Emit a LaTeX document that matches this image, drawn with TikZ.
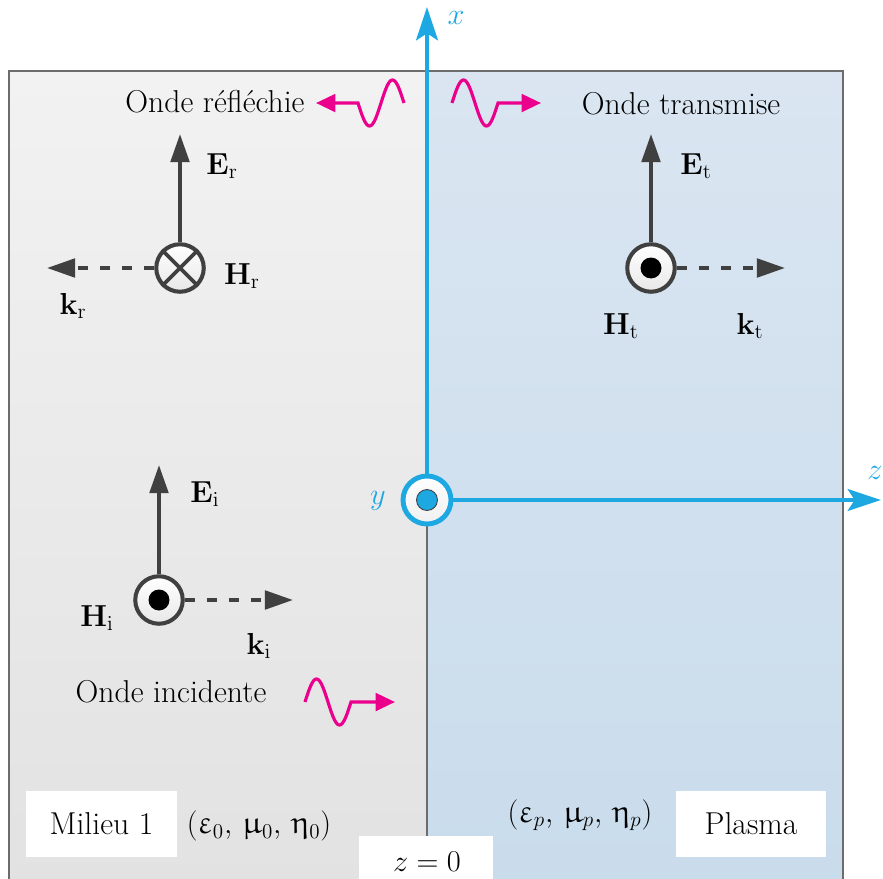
\documentclass[tikz,border=0pt]{standalone}
\usepackage{upgreek}
\usetikzlibrary{arrows.meta}
\definecolor{axblue}{RGB}{30,168,226}
\definecolor{mag}{RGB}{234,0,140}
\definecolor{dk}{RGB}{64,64,64}
\definecolor{ltop}{RGB}{242,242,242}
\definecolor{lbot}{RGB}{226,226,226}
\definecolor{rtop}{RGB}{218,229,241}
\definecolor{rbot}{RGB}{201,220,236}
\tikzset{
  lbl/.style={font=\fontsize{18}{21}\selectfont, inner sep=0pt},
  axisline/.style={draw=axblue, line width=2pt, -{Stealth[length=19pt,width=12.5pt,inset=4pt]}},
  axlbl/.style={lbl, text=axblue},
  efield/.style={draw=dk, line width=2.2pt, -{Triangle[length=16pt,width=10.5pt]}},
  kfield/.style={draw=dk, line width=2.2pt, dash pattern=on 6pt off 6.5pt, -{Triangle[length=16pt,width=10.5pt]}},
  fieldcirc/.style={circle, draw=dk, line width=2.3pt, minimum size=0.95cm, inner sep=0pt, top color=white, bottom color=gray!18},
  wave/.style={draw=mag, line width=1.8pt, -{Triangle[length=11pt,width=10pt]}},
  whitebox/.style={fill=white, lbl, minimum width=3.02cm, minimum height=1.32cm},
}
\begin{document}
\begin{tikzpicture}[x=0.02cm, y=-0.02cm]
\useasboundingbox (0,0) rectangle (883,879);
% backgrounds
\shade[top color=ltop, bottom color=lbot] (9,71) rectangle (427,890);
\shade[top color=rtop, bottom color=rbot] (427,71) rectangle (843,890);
\draw[gray!85!black, line width=0.6pt] (9,890) -- (9,71) -- (843,71) -- (843,890);
\draw[gray!85!black, line width=0.6pt] (427,71) -- (427,890);

% bottom boxes
\node[whitebox] (milieu) at (101.5,824) {Milieu 1};
\node[whitebox] (plasma) at (751,824) {Plasma};
\fill[white] (359,836) rectangle (493,890);
\node[lbl] (z0) at (427,862) {$z=0$};
\node[lbl] (eps0) at (259,826) {$(\upvarepsilon_0,\, \upmu_0,\, \upeta_0)$};
\node[lbl] (epsp) at (580,815) {$(\upvarepsilon_p,\, \upmu_p,\, \upeta_p)$};

% axes
\node[circle, draw=axblue, line width=2.8pt, minimum size=0.96cm, inner sep=0pt, top color=white, bottom color=gray!12] (O) at (427,500) {};
\fill[axblue, draw=dk, line width=0.5pt] (O.center) circle (0.21cm);
\coordinate (xtip) at (427,7);
\coordinate (ztip) at (881,500);
\draw[axisline] (O.north) -- (xtip);
\draw[axisline] (O.east) -- (ztip);
\node[axlbl] (xl) at (456,18) {$x$};
\node[axlbl] (zl) at (875,473) {$z$};
\node[axlbl] (yl) at (378,501) {$y$};

% reflected
\node[fieldcirc] (Hr) at (180,268) {};
\draw[dk, line width=2.2pt] (Hr.45) -- (Hr.225) (Hr.135) -- (Hr.-45);
\coordinate (Ertip) at (180,134);
\coordinate (krtip) at (47,268);
\draw[efield] (Hr.north) -- (Ertip);
\draw[kfield] (Hr.west) -- (krtip);
\node[lbl] (Erl) at (222,166) {$\mathbf{E}_\mathrm{r}$};
\node[lbl] (Hrl) at (242,276) {$\mathbf{H}_\mathrm{r}$};
\node[lbl] (krl) at (73,306) {$\mathbf{k}_\mathrm{r}$};

% transmitted
\node[fieldcirc] (Ht) at (651,268) {};
\fill[black] (Ht.center) circle (0.21cm);
\coordinate (Ettip) at (651,134);
\coordinate (kttip) at (785,268);
\draw[efield] (Ht.north) -- (Ettip);
\draw[kfield] (Ht.east) -- (kttip);
\node[lbl] (Etl) at (696,166) {$\mathbf{E}_\mathrm{t}$};
\node[lbl] (Htl) at (621,326) {$\mathbf{H}_\mathrm{t}$};
\node[lbl] (ktl) at (750,326) {$\mathbf{k}_\mathrm{t}$};

% incident
\node[fieldcirc] (Hi) at (159,600) {};
\fill[black] (Hi.center) circle (0.21cm);
\coordinate (Eitip) at (159,465);
\coordinate (kitip) at (293,600);
\draw[efield] (Hi.north) -- (Eitip);
\draw[kfield] (Hi.east) -- (kitip);
\node[lbl] (Eil) at (205,494) {$\mathbf{E}_\mathrm{i}$};
\node[lbl] (Hil) at (97,618) {$\mathbf{H}_\mathrm{i}$};
\node[lbl] (kil) at (259,646) {$\mathbf{k}_\mathrm{i}$};

% wave labels
\node[lbl] (refl) at (215,102) {Onde réfléchie};
\node[lbl] (trans) at (681,104) {Onde transmise};
\node[lbl] (inc) at (171,692) {Onde incidente};

% wavy arrows
\coordinate (wr) at (316,103);
\coordinate (wt) at (541,103);
\coordinate (wi) at (395,702);
\draw[wave] plot[domain=0:1, samples=50, smooth] ({404-46*\x},{103-23*sin(360*\x)}) -- (wr);
\draw[wave] plot[domain=0:1, samples=50, smooth] ({452+46*\x},{103-23*sin(360*\x)}) -- (wt);
\draw[wave] plot[domain=0:1, samples=50, smooth] ({305+46*\x},{702-23*sin(360*\x)}) -- (wi);
\end{tikzpicture}
\end{document}
